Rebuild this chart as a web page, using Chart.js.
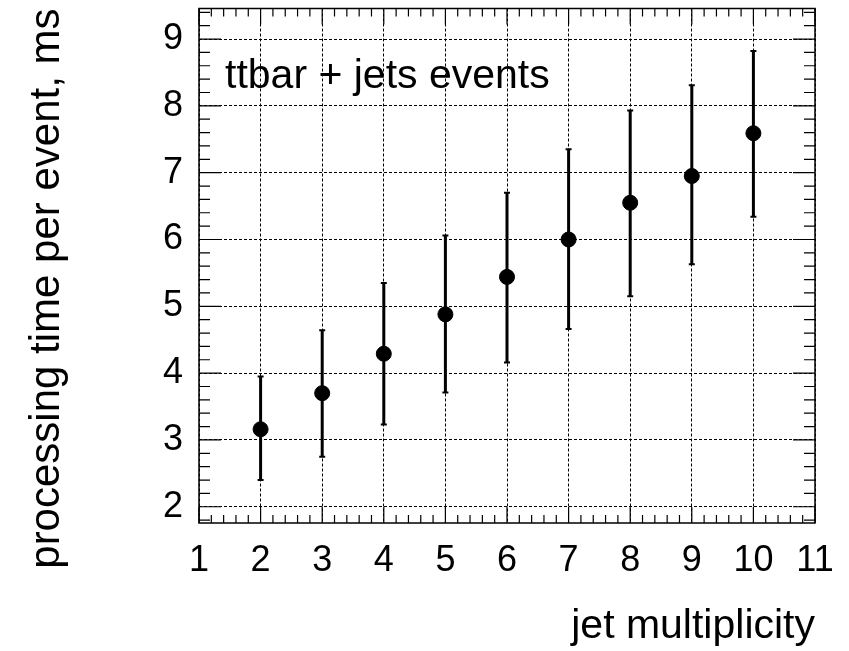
<!DOCTYPE html>
<html>
<head>
<meta charset="utf-8">
<script src="https://cdn.jsdelivr.net/npm/chart.js"></script>
<style>
  body { margin: 0; background: #fff; }
  #wrap { width: 849px; height: 651px; }
</style>
</head>
<body>
<div id="wrap"><canvas id="chart"></canvas></div>
<script>
// jet multiplicity vs processing time (ms), with error bars
const jetMult = [2, 3, 4, 5, 6, 7, 8, 9, 10];
const timeMs  = [3.16, 3.70, 4.29, 4.88, 5.44, 6.00, 6.55, 6.95, 7.59];
const errLow  = [2.40, 2.75, 3.23, 3.71, 4.16, 4.66, 5.15, 5.63, 6.34];
const errHigh = [3.95, 4.64, 5.35, 6.06, 6.70, 7.35, 7.93, 8.31, 8.82];

const xTicks = [1, 2, 3, 4, 5, 6, 7, 8, 9, 10, 11];
const yTicks = [2, 3, 4, 5, 6, 7, 8, 9];
const xRange = [1, 11];
const yRange = [1.757, 9.457];

const FONT = "'Liberation Sans', Arial, Helvetica, sans-serif";

// vertical error bars with small caps, under the markers
const errorBars = {
  id: 'errorBars',
  beforeDatasetsDraw(chart) {
    const ctx = chart.ctx, xs = chart.scales.x, ys = chart.scales.y;
    ctx.save();
    ctx.strokeStyle = '#000';
    for (let i = 0; i < jetMult.length; i++) {
      const px = xs.getPixelForValue(jetMult[i]);
      const lo = ys.getPixelForValue(errLow[i]);
      const hi = ys.getPixelForValue(errHigh[i]);
      ctx.lineWidth = 3;
      ctx.beginPath();
      ctx.moveTo(px, lo);
      ctx.lineTo(px, hi);
      ctx.stroke();
      ctx.lineWidth = 2;
      ctx.beginPath();
      ctx.moveTo(px - 3, lo); ctx.lineTo(px + 3, lo);
      ctx.moveTo(px - 3, hi); ctx.lineTo(px + 3, hi);
      ctx.stroke();
    }
    ctx.restore();
  }
};

// box frame with inward ticks on all four sides, plus the label
const frameTicks = {
  id: 'frameTicks',
  afterDraw(chart) {
    const ctx = chart.ctx, a = chart.chartArea;
    const xs = chart.scales.x, ys = chart.scales.y;
    ctx.save();
    ctx.strokeStyle = '#000';
    ctx.lineWidth = 1.5;
    ctx.strokeRect(a.left, a.top, a.right - a.left, a.bottom - a.top);

    ctx.lineWidth = 1.2;
    ctx.beginPath();
    for (let i = 0; i <= 50; i++) {
      const px = xs.getPixelForValue(1 + i * 0.2);
      const len = i % 5 === 0 ? 16 : 8;
      ctx.moveTo(px, a.bottom); ctx.lineTo(px, a.bottom - len);
      ctx.moveTo(px, a.top); ctx.lineTo(px, a.top + len);
    }
    for (let i = 9; i <= 47; i++) {
      const py = ys.getPixelForValue(i * 0.2);
      const len = i % 5 === 0 ? 22 : 11;
      ctx.moveTo(a.left, py); ctx.lineTo(a.left + len, py);
      ctx.moveTo(a.right, py); ctx.lineTo(a.right - len, py);
    }
    ctx.stroke();

    ctx.fillStyle = '#000';
    ctx.font = '41px ' + FONT;
    ctx.textBaseline = 'alphabetic';
    ctx.fillText('ttbar + jets events', a.left + 26, a.top + 79);
    ctx.restore();
  }
};

// no extra room around the scales for half-labels
function noEdgePadding(s) {
  s.paddingTop = 0;
  s.paddingBottom = 0;
  s.paddingLeft = 0;
  s.paddingRight = 0;
}

new Chart(document.getElementById('chart'), {
  type: 'scatter',
  data: {
    datasets: [{
      data: jetMult.map((x, i) => ({ x: x, y: timeMs[i] })),
      backgroundColor: '#000',
      borderColor: '#000',
      pointRadius: 7.5,
      pointHoverRadius: 7.5
    }]
  },
  options: {
    responsive: true,
    maintainAspectRatio: false,
    animation: false,
    events: [],
    layout: { padding: { top: 6, right: 34, left: 0, bottom: 0 } },
    plugins: { legend: { display: false }, tooltip: { enabled: false } },
    scales: {
      x: {
        type: 'linear',
        min: xRange[0],
        max: xRange[1],
        afterBuildTicks: s => { s.ticks = xTicks.map(v => ({ value: v })); },
        afterFit: s => { s.height = 128; noEdgePadding(s); },
        ticks: { color: '#000', padding: 16, font: { family: FONT, size: 36 }, maxRotation: 0, autoSkip: false },
        grid: { color: '#000', lineWidth: 1, drawTicks: false },
        border: { display: false, dash: [3, 2] },
        title: {
          display: true, text: 'jet multiplicity', align: 'end', color: '#000',
          font: { family: FONT, size: 41 }, padding: { top: 12, bottom: 0 }
        }
      },
      y: {
        type: 'linear',
        min: yRange[0],
        max: yRange[1],
        afterBuildTicks: s => { s.ticks = yTicks.map(v => ({ value: v })); },
        afterFit: s => { s.width = 199; noEdgePadding(s); },
        ticks: { color: '#000', padding: 16, font: { family: FONT, size: 36 } },
        grid: { color: '#000', lineWidth: 1, drawTicks: false },
        border: { display: false, dash: [3, 2] },
        title: {
          display: true, text: 'processing time per event, ms', align: 'end', color: '#000',
          font: { family: FONT, size: 42 }, padding: { top: 22, bottom: 0 }
        }
      }
    }
  },
  plugins: [errorBars, frameTicks]
});
</script>
</body>
</html>
